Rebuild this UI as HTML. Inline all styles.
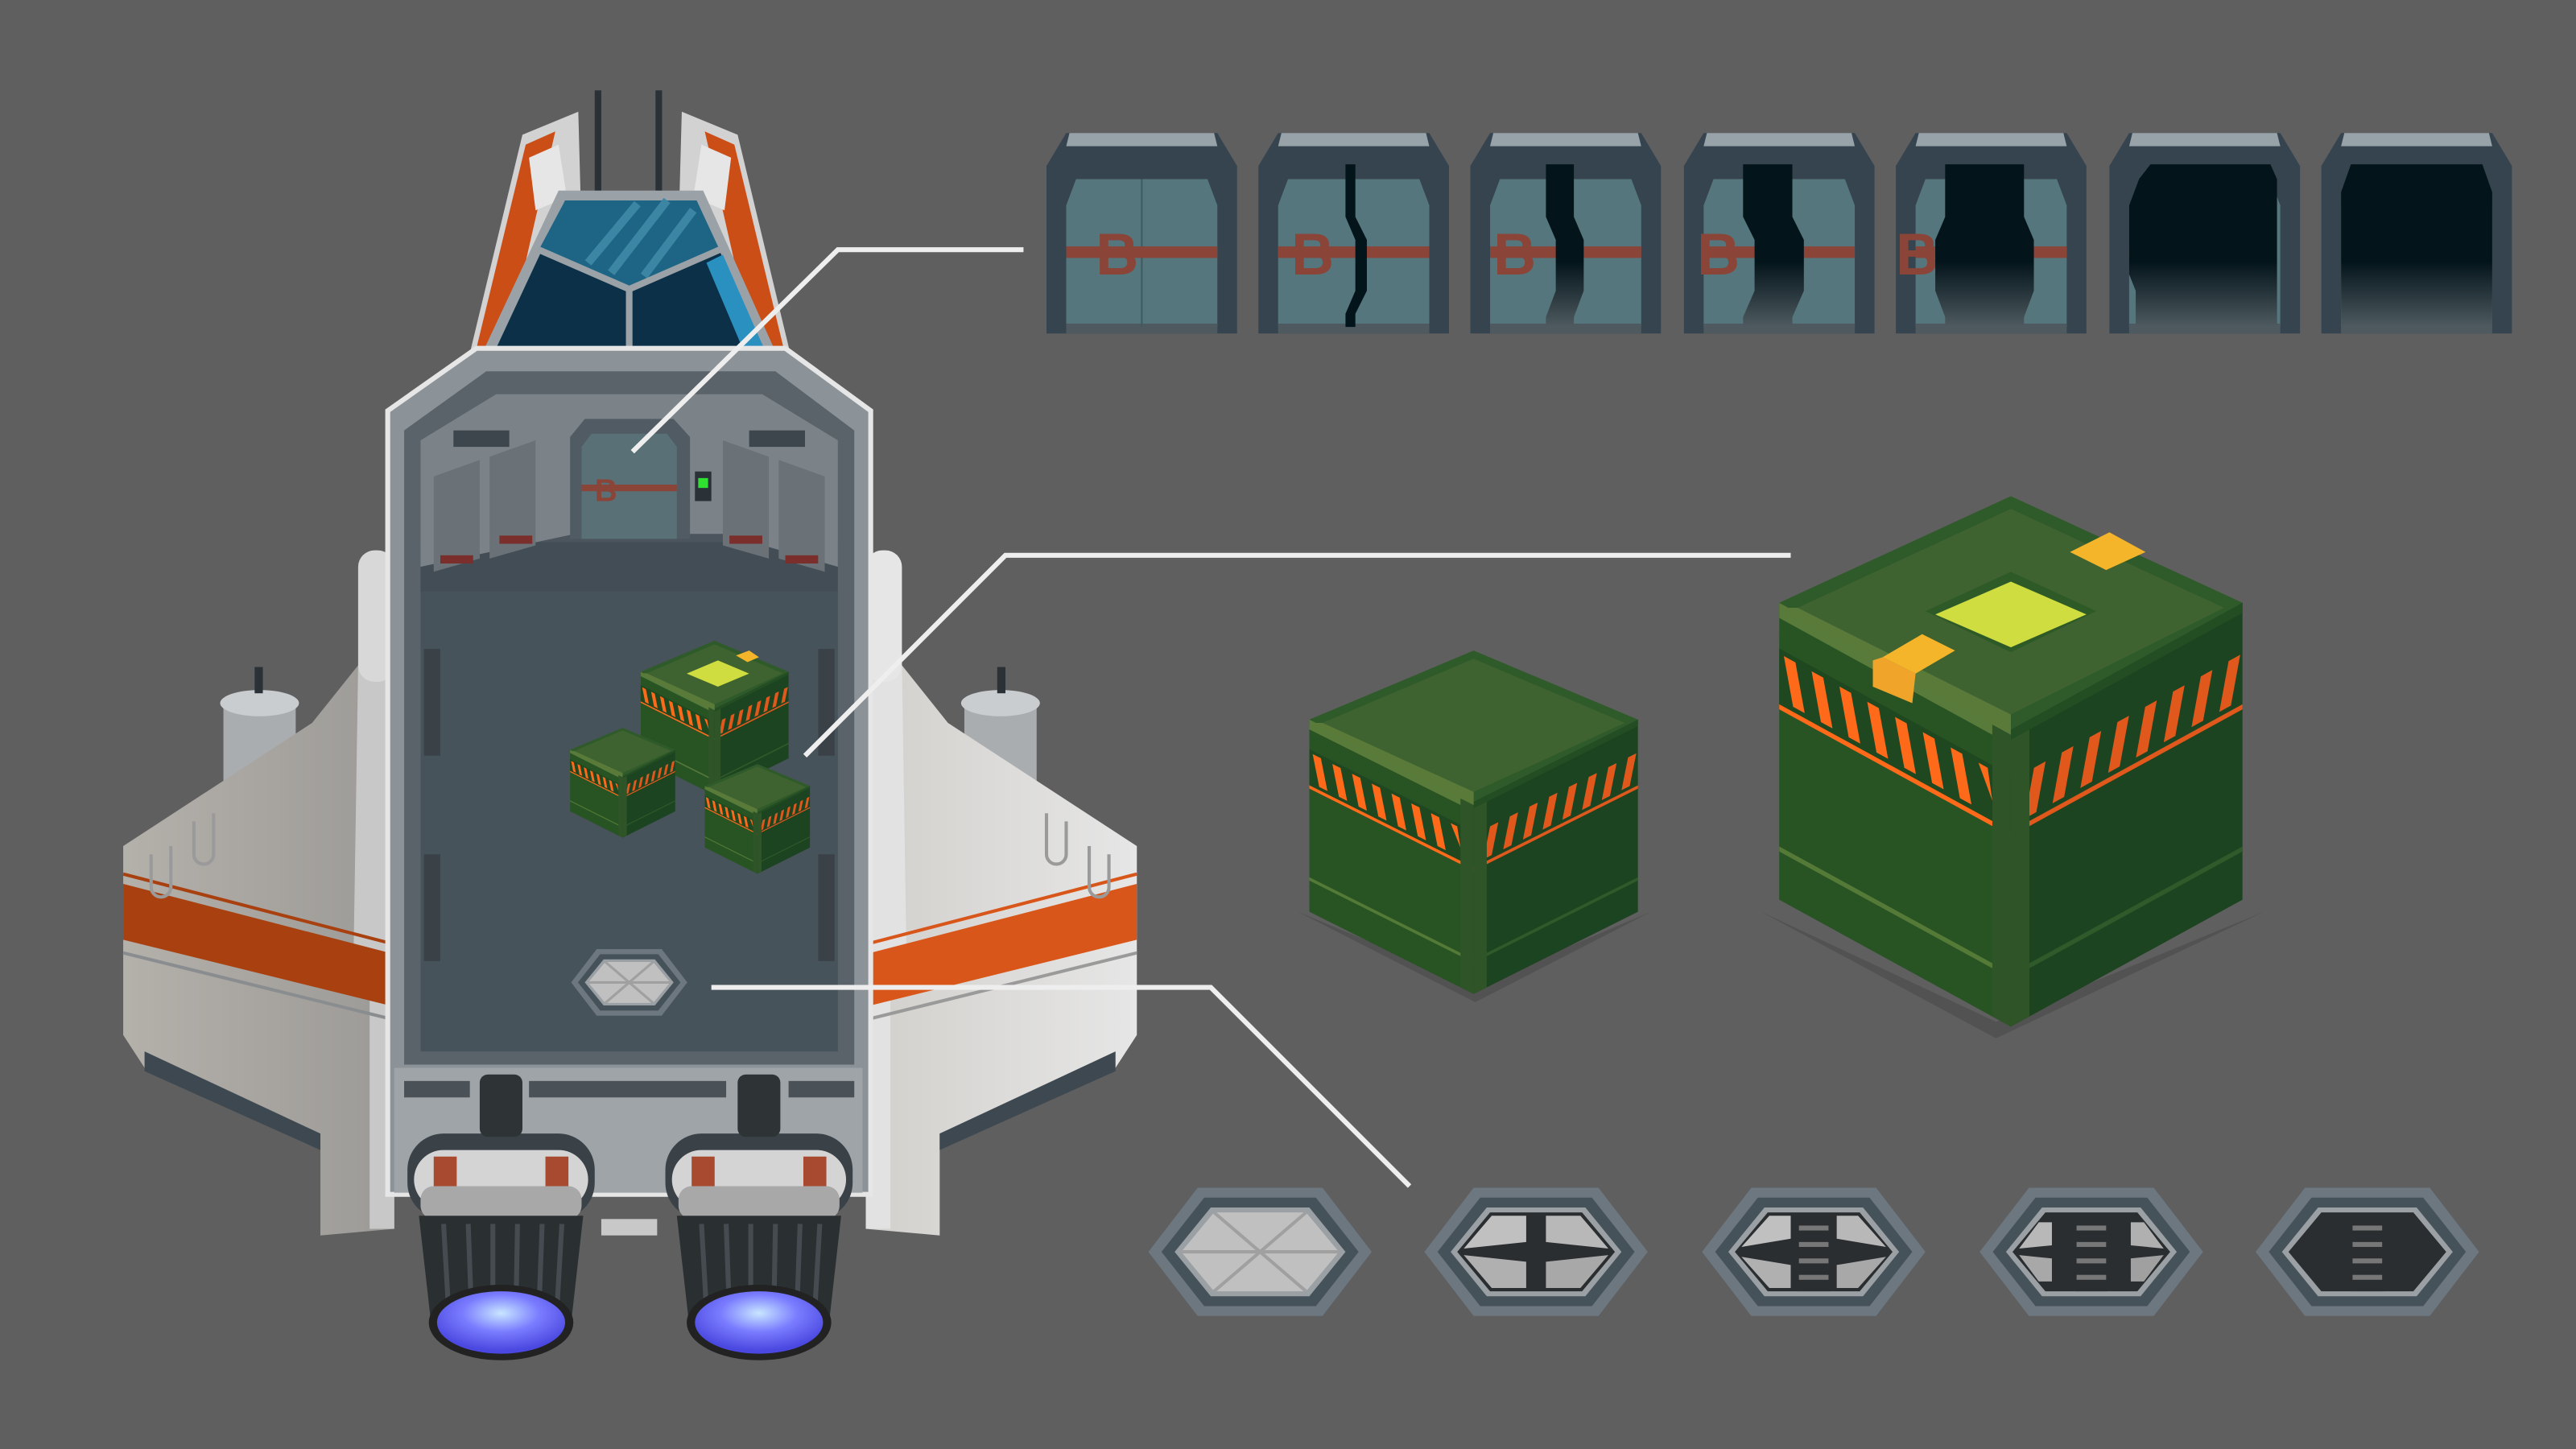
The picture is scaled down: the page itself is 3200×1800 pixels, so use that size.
<!DOCTYPE html>
<html><head><meta charset="utf-8"><style>html,body{margin:0;padding:0;background:#5f5f5f;}svg{display:block}</style></head>
<body>
<svg width="3200" height="1800" viewBox="0 0 1568 882" xmlns="http://www.w3.org/2000/svg" font-family="Liberation Sans, sans-serif">
<defs>
  <linearGradient id="doorGap" x1="0" y1="0" x2="0" y2="1">
    <stop offset="0" stop-color="#03141a"/><stop offset="0.6" stop-color="#03141a"/><stop offset="1" stop-color="#4e5a60"/>
  </linearGradient>
  <radialGradient id="flame" cx="0.5" cy="0.35" r="0.6">
    <stop offset="0" stop-color="#c8e6ff"/><stop offset="0.5" stop-color="#7a7cff"/><stop offset="1" stop-color="#4a48e0"/>
  </radialGradient>
  <linearGradient id="wingL" x1="0" y1="0" x2="1" y2="0">
    <stop offset="0" stop-color="#b4b0aa"/><stop offset="1" stop-color="#9c9a97"/>
  </linearGradient>
  <linearGradient id="wingR" x1="0" y1="0" x2="1" y2="0">
    <stop offset="0" stop-color="#e6e6e6"/><stop offset="1" stop-color="#d2d0cc"/>
  </linearGradient>
  <symbol id="doorFrame" viewBox="0 0 116 122" overflow="visible">
    <polygon points="12,0 104,0 116,20 116,122 0,122 0,20" fill="#36444f"/>
    <polygon points="14,0 102,0 104,8 12,8" fill="#98a2a9"/>
    <polygon points="18,28 98,28 104,44 104,118 12,118 12,44" fill="#55767c"/>
    <rect x="12" y="116" width="92" height="6" fill="#4e5a60"/>
  </symbol>
  <g id="crateBase">
    <g transform="matrix(1,0.5,0,1,0,42)">
      <rect x="0" y="0" width="100" height="117" fill="#285424"/>
      <rect x="0" y="18" width="100" height="23" fill="#1f4820"/>
      <g fill="#ff6a1a">
        <polygon points="2,20 7,20 11,38 6,38"/><polygon points="14,20 19,20 23,38 18,38"/><polygon points="26,20 31,20 35,38 30,38"/>
        <polygon points="38,20 43,20 47,38 42,38"/><polygon points="50,20 55,20 59,38 54,38"/><polygon points="62,20 67,20 71,38 66,38"/>
        <polygon points="74,20 79,20 83,38 78,38"/><polygon points="86,20 90,20 92,32"/>
      </g>
      <rect x="0" y="40" width="100" height="2" fill="#ff6a1a"/>
      <rect x="0" y="0" width="100" height="6" fill="#587a3a"/>
      <rect x="0" y="96" width="100" height="2" fill="#557a38"/>
      <rect x="92" y="0" width="8" height="117" fill="#2f5428"/>
    </g>
    <g transform="matrix(1,-0.5,0,1,100,92)">
      <rect x="0" y="0" width="100" height="117" fill="#1d4420"/>
      <g fill="#e0581c">
        <polygon points="10,20 15,20 11,38 6,38"/><polygon points="22,20 27,20 23,38 18,38"/><polygon points="34,20 39,20 35,38 30,38"/>
        <polygon points="46,20 51,20 47,38 42,38"/><polygon points="58,20 63,20 59,38 54,38"/><polygon points="70,20 75,20 71,38 66,38"/>
        <polygon points="82,20 87,20 83,38 78,38"/><polygon points="94,20 99,20 95,38 90,38"/>
      </g>
      <rect x="0" y="40" width="100" height="2" fill="#e0581c"/>
      <rect x="0" y="96" width="100" height="2" fill="#2f5a2a"/>
      <rect x="0" y="0" width="8" height="117" fill="#2f5428"/>
      <rect x="0" y="0" width="100" height="4" fill="#234d22"/>
    </g>
    <polygon points="0,42 100,0 200,42 100,92" fill="#2f5a2a"/>
    <polygon points="8,44 100,5 192,44 100,86" fill="#3f6330"/>
    <polygon points="0,44 8,44 100,86 100,94" fill="#5a7a3a"/>
  </g>
  <g id="hexBase">
    <polygon points="-68,0 -38,-39 38,-39 68,0 38,39 -38,39" fill="#6c7780"/>
    <polygon points="-60,0 -34,-33 34,-33 60,0 34,33 -34,33" fill="#46525a"/>
    <polygon points="-52,0 -30,-27 30,-27 52,0 30,27 -30,27" fill="#9aa0a4"/>
  </g>
  <g id="ladder">
    <rect x="-10" y="-22" width="20" height="46" fill="#2a2e30"/>
    <rect x="-9" y="-16" width="18" height="3" fill="#777"/><rect x="-9" y="-6" width="18" height="3" fill="#777"/>
    <rect x="-9" y="4" width="18" height="3" fill="#777"/><rect x="-9" y="14" width="18" height="3" fill="#777"/>
  </g>
</defs>

<rect width="1568" height="882" fill="#5f5f5f"/>

<!-- DOORS -->
<g transform="translate(637,81)">
  <use href="#doorFrame" width="116" height="122"/>
  <line x1="58" y1="28" x2="58" y2="118" stroke="#3f5a60" stroke-width="1"/>
  <rect x="12" y="69" width="92" height="7" fill="#8a4438"/>
  <text x="30" y="86" font-size="36" font-weight="bold" fill="#8a4438">B</text>
</g>
<g transform="translate(766,81)">
  <use href="#doorFrame" width="116" height="122"/>
  <rect x="12" y="69" width="92" height="7" fill="#8a4438"/>
  <text x="20" y="86" font-size="36" font-weight="bold" fill="#8a4438">B</text>
  <polygon points="53,19 59,19 59,51 66,65 66,96 59,110 59,118 53,118 53,110 59,96 59,65 53,51" fill="#03141a"/>
</g>
<g transform="translate(895,81)">
  <use href="#doorFrame" width="116" height="122"/>
  <rect x="12" y="69" width="92" height="7" fill="#8a4438"/>
  <text x="14" y="86" font-size="36" font-weight="bold" fill="#8a4438">B</text>
  <polygon points="46,19 63,19 63,51 69,65 69,96 63,112 63,118 46,118 46,112 52,96 52,65 46,51" fill="url(#doorGap)"/>
</g>
<g transform="translate(1025,81)">
  <use href="#doorFrame" width="116" height="122"/>
  <rect x="12" y="69" width="92" height="7" fill="#8a4438"/>
  <text x="8" y="86" font-size="36" font-weight="bold" fill="#8a4438">B</text>
  <polygon points="36,19 66,19 66,51 73,65 73,96 66,112 66,118 36,118 36,112 43,96 43,65 36,51" fill="url(#doorGap)"/>
</g>
<g transform="translate(1154,81)">
  <use href="#doorFrame" width="116" height="122"/>
  <rect x="12" y="69" width="92" height="7" fill="#8a4438"/>
  <text x="0" y="86" font-size="36" font-weight="bold" fill="#8a4438">B</text>
  <polygon points="30,19 78,19 78,51 84,65 84,96 78,112 78,118 30,118 30,112 24,96 24,65 30,51" fill="url(#doorGap)"/>
</g>
<g transform="translate(1284,81)">
  <use href="#doorFrame" width="116" height="122"/>
  <rect x="12" y="69" width="10" height="7" fill="#8a4438"/>
  <polygon points="25,19 98,19 102,28 102,118 16,118 16,96 12,86 12,44 18,28" fill="url(#doorGap)"/>
</g>
<g transform="translate(1413,81)">
  <use href="#doorFrame" width="116" height="122"/>
  <polygon points="18,19 98,19 104,36 104,118 12,118 12,36" fill="url(#doorGap)"/>
</g>

<!-- CRATES -->
<polygon points="790,555 898,610 1005,555 898,600" fill="#4a4a4a" opacity="0.6"/>
<use href="#crateBase" transform="translate(797,396)"/>
<polygon points="1072,555 1215,632 1378,555 1215,622" fill="#4a4a4a" opacity="0.6"/>
<use href="#crateBase" transform="translate(1083,302) scale(1.41,1.545)"/>
<polygon points="1172,372 1224,348 1276,372 1224,397" fill="#2e5a28"/>
<polygon points="1178,374 1224,354 1270,374 1224,394" fill="#cfdd40"/>
<polygon points="1260,336 1284,324 1306,336 1282,347" fill="#f4b52a"/>
<polygon points="1146,400 1170,386 1190,396 1166,410" fill="#f4b52a"/>
<polygon points="1146,400 1166,410 1164,428 1140,418 1140,402" fill="#f0a42a"/>

<!-- HATCHES -->
<g transform="translate(767,762)">
  <use href="#hexBase"/>
  <polygon points="-48,0 -28,-24 28,-24 48,0 28,24 -28,24" fill="#c0c0c0"/>
  <path d="M-28,-24 L28,24 M28,-24 L-28,24 M-48,0 L48,0" stroke="#a0a0a0" stroke-width="2"/>
</g>
<g transform="translate(935,762)">
  <use href="#hexBase"/>
  <polygon points="-48,0 -28,-24 28,-24 48,0 28,24 -28,24" fill="#2a2e30"/>
  <polygon points="-44,-2 -27,-22 -6,-22 -6,-6" fill="#c0c0c0"/><polygon points="44,-2 27,-22 6,-22 6,-6" fill="#b8b8b8"/>
  <polygon points="-44,2 -27,22 -6,22 -6,6" fill="#b0b0b0"/><polygon points="44,2 27,22 6,22 6,6" fill="#a8a8a8"/>
</g>
<g transform="translate(1104,762)">
  <use href="#hexBase"/>
  <polygon points="-48,0 -28,-24 28,-24 48,0 28,24 -28,24" fill="#2a2e30"/>
  <use href="#ladder"/>
  <polygon points="-44,-3 -27,-22 -14,-22 -14,-8" fill="#c0c0c0"/><polygon points="44,-3 27,-22 14,-22 14,-8" fill="#b8b8b8"/>
  <polygon points="-44,3 -27,22 -14,22 -14,8" fill="#b0b0b0"/><polygon points="44,3 27,22 14,22 14,8" fill="#a8a8a8"/>
</g>
<g transform="translate(1273,762)">
  <use href="#hexBase"/>
  <polygon points="-48,0 -28,-24 28,-24 48,0 28,24 -28,24" fill="#2a2e30"/>
  <use href="#ladder"/>
  <polygon points="-44,-2 -32,-18 -24,-18 -24,-4" fill="#b8b8b8"/><polygon points="44,-2 32,-18 24,-18 24,-4" fill="#b0b0b0"/>
  <polygon points="-44,2 -32,18 -24,18 -24,4" fill="#a8a8a8"/><polygon points="44,2 32,18 24,18 24,4" fill="#a0a0a0"/>
</g>
<g transform="translate(1441,762)">
  <use href="#hexBase"/>
  <polygon points="-48,0 -28,-24 28,-24 48,0 28,24 -28,24" fill="#2a2e30"/>
  <use href="#ladder"/>
</g>

<!-- SHIP -->
<g id="podL">
  <rect x="136" y="428" width="44" height="50" fill="#a9adb0"/>
  <ellipse cx="158" cy="428" rx="24" ry="8" fill="#c9cdd0"/>
  <rect x="155" y="406" width="5" height="16" fill="#2a3238"/>
</g>
<use href="#podL" transform="translate(767,0) scale(-1,1)"/>

<g id="wingLeft">
  <polygon points="75,515 190,440 218,405 240,405 240,748 195,752 195,690 88,650 75,630" fill="url(#wingL)"/>
  <polygon points="218,405 240,405 240,748 225,748 225,600 215,595" fill="#c8c8c8"/>
  <polygon points="75,538 237,580 237,612 75,572" fill="#a8400f"/>
  <line x1="75" y1="532" x2="237" y2="574" stroke="#a8400f" stroke-width="2"/>
  <line x1="75" y1="580" x2="237" y2="620" stroke="#8a8d90" stroke-width="2"/>
  <polygon points="88,640 195,690 195,700 88,652" fill="#3d4850"/>
  <path d="M92,520 v20 a6,6 0 0 0 12,0 v-25 M118,500 v20 a6,6 0 0 0 12,0 v-25" stroke="#9a9a9a" stroke-width="2" fill="none"/>
  <rect x="218" y="335" width="22" height="80" rx="10" fill="#d8d8d8"/>
</g>
<g transform="translate(767,0) scale(-1,1)">
  <polygon points="75,515 190,440 218,405 240,405 240,748 195,752 195,690 88,650 75,630" fill="url(#wingR)"/>
  <polygon points="218,405 240,405 240,748 225,748 225,600 215,595" fill="#e2e2e2"/>
  <polygon points="75,538 237,580 237,612 75,572" fill="#d9561a"/>
  <line x1="75" y1="532" x2="237" y2="574" stroke="#d9561a" stroke-width="2"/>
  <line x1="75" y1="580" x2="237" y2="620" stroke="#9a9a9a" stroke-width="2"/>
  <polygon points="88,640 195,690 195,700 88,652" fill="#3d4850"/>
  <path d="M92,520 v20 a6,6 0 0 0 12,0 v-25 M118,500 v20 a6,6 0 0 0 12,0 v-25" stroke="#9a9a9a" stroke-width="2" fill="none"/>
  <rect x="218" y="335" width="22" height="80" rx="10" fill="#e6e6e6"/>
</g>

<g id="finL">
  <polygon points="286,215 318,82 352,68 356,215" fill="#d2d2d2"/>
  <polygon points="290,212 320,88 338,80 308,212" fill="#cc4e17"/>
  <polygon points="322,96 340,88 345,120 326,128" fill="#e6e6e6"/>
</g>
<use href="#finL" transform="translate(767,0) scale(-1,1)"/>
<line x1="364" y1="55" x2="364" y2="122" stroke="#2a3238" stroke-width="4"/>
<line x1="401" y1="55" x2="401" y2="122" stroke="#2a3238" stroke-width="4"/>
<polygon points="294,214 340,116 428,116 472,214" fill="#9aa2a8"/>
<polygon points="302,212 344,122 424,122 465,212" fill="#0b3048"/>
<polygon points="344,122 424,122 438,152 383,176 328,152" fill="#1e6585"/>
<path d="M358,160 l30,-36 M372,166 l34,-44 M392,168 l30,-40" stroke="#3c86a3" stroke-width="5"/>
<path d="M328,152 L383,176 L438,152 M383,176 V212" stroke="#9aa2a8" stroke-width="4" fill="none"/>
<polygon points="440,155 465,212 452,212 430,160" fill="#2a90c0"/>

<polygon points="236,250 290,212 478,212 530,250 530,727 236,727" fill="#8c9398" stroke="#e6e6e6" stroke-width="3"/>
<polygon points="246,262 296,226 472,226 520,262 520,648 246,648" fill="#5a636a"/>
<rect x="256" y="330" width="254" height="310" fill="#47535b"/>
<polygon points="256,268 302,240 464,240 510,268 510,345 440,325 350,325 256,345" fill="#7b8389"/>
<polygon points="256,345 350,325 440,325 510,345 510,360 256,360" fill="#3e484f" opacity="0.5"/>
<g fill="#6a7278">
  <polygon points="264,290 292,280 292,340 264,348"/><polygon points="298,278 326,268 326,332 298,340"/>
  <polygon points="440,268 468,278 468,340 440,332"/><polygon points="474,280 502,290 502,348 474,340"/>
</g>
<g fill="#7a2f2c">
  <rect x="268" y="338" width="20" height="5"/><rect x="304" y="326" width="20" height="5"/>
  <rect x="444" y="326" width="20" height="5"/><rect x="478" y="338" width="20" height="5"/>
</g>
<g fill="#3d464c">
  <rect x="276" y="262" width="34" height="10"/><rect x="456" y="262" width="34" height="10"/>
</g>
<polygon points="356,255 410,255 420,266 420,328 347,328 347,266" fill="#505b63"/>
<polygon points="360,264 406,264 412,272 412,328 354,328 354,272" fill="#587076"/>
<rect x="354" y="295" width="58" height="4" fill="#8a4438"/>
<text x="362" y="305" font-size="19" font-weight="bold" fill="#8a4438">B</text>
<rect x="423" y="287" width="10" height="18" fill="#2a3238"/><rect x="425" y="291" width="6" height="6" fill="#30e030"/>
<g fill="#3a4248"><rect x="258" y="395" width="10" height="65"/><rect x="258" y="520" width="10" height="65"/>
<rect x="498" y="395" width="10" height="65"/><rect x="498" y="520" width="10" height="65"/></g>
<use href="#crateBase" transform="translate(390,390) scale(0.45,0.45)"/>
<polygon points="418,410 437,402 456,410 437,418" fill="#cfdd40"/>
<polygon points="448,399 456,396 462,400 455,403" fill="#f4b52a"/>
<use href="#crateBase" transform="translate(347,443) scale(0.32,0.32)"/>
<use href="#crateBase" transform="translate(429,465) scale(0.32,0.32)"/>
<g transform="translate(383,598) scale(0.52,0.52)">
  <use href="#hexBase"/>
  <polygon points="-48,0 -28,-24 28,-24 48,0 28,24 -28,24" fill="#c0c0c0"/>
  <path d="M-28,-24 L28,24 M28,-24 L-28,24 M-48,0 L48,0" stroke="#a0a0a0" stroke-width="3"/>
</g>

<rect x="240" y="650" width="285" height="76" fill="#9ea4a8"/>
<g fill="#4a5258">
  <rect x="246" y="658" width="40" height="10"/><rect x="322" y="658" width="120" height="10"/><rect x="480" y="658" width="40" height="10"/>
</g>
<g id="engL">
  <rect x="248" y="690" width="114" height="52" rx="22" fill="#3a4248"/>
  <rect x="252" y="700" width="106" height="36" rx="18" fill="#d4d4d4"/>
  <rect x="264" y="704" width="14" height="20" fill="#a84a30"/><rect x="332" y="704" width="14" height="20" fill="#a84a30"/>
  <rect x="256" y="722" width="98" height="20" rx="8" fill="#a8a8a8"/>
  <polygon points="255,740 355,740 348,802 262,802" fill="#2a2f32"/>
  <path d="M270,745 l3,52 M285,745 l2,54 M300,745 v56 M315,745 l-1,56 M330,745 l-2,54 M342,745 l-3,52" stroke="#454b50" stroke-width="3"/>
  <ellipse cx="305" cy="805" rx="44" ry="23" fill="#222"/>
  <ellipse cx="305" cy="805" rx="39" ry="19" fill="url(#flame)"/>
  <rect x="292" y="654" width="26" height="38" rx="5" fill="#2e3336"/>
</g>
<use href="#engL" transform="translate(157,0)"/>
<rect x="366" y="742" width="34" height="10" fill="#c8c8c8"/>

<polyline points="385,275 510,152 623,152" fill="none" stroke="#eeeeee" stroke-width="3"/>
<polyline points="490,460 612,338 1090,338" fill="none" stroke="#eeeeee" stroke-width="3"/>
<polyline points="433,601 737,601 858,722" fill="none" stroke="#eeeeee" stroke-width="3"/>
</svg>
</body></html>
